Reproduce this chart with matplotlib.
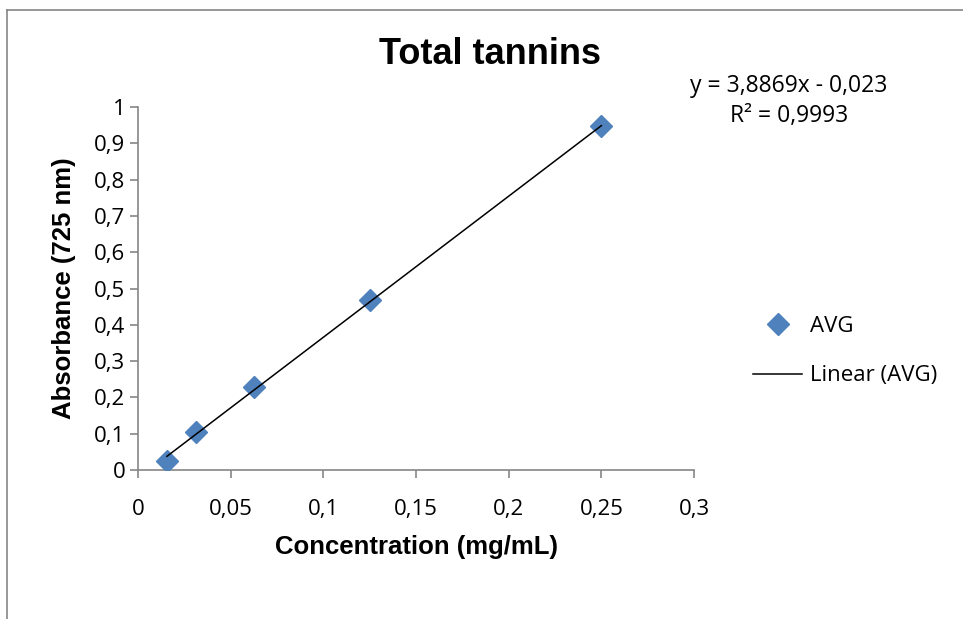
import matplotlib
matplotlib.use("Agg")
import matplotlib.pyplot as plt
import numpy as np
from matplotlib.lines import Line2D
from matplotlib.ticker import FuncFormatter

# ── Data ─────────────────────────────────────────────────────────
conc = [0.015625, 0.03125, 0.0625, 0.125, 0.25]
absorb = [0.025, 0.106, 0.228, 0.469, 0.947]
slope, intercept = 3.8869, -0.023
x_ticks = [0, 0.05, 0.1, 0.15, 0.2, 0.25, 0.3]
y_ticks = [0, 0.1, 0.2, 0.3, 0.4, 0.5, 0.6, 0.7, 0.8, 0.9, 1.0]

BLUE = "#4F81BD"
GREY = "#868686"
TICK_FONT = "Open Sans"
BOLD_FONT = "Liberation Sans"

fig = plt.figure(figsize=(9.63, 6.19), dpi=100)
ax = fig.add_axes([0.1433, 0.2407, 0.5774, 0.5864])

# outer chart frame (top + left only visible in the crop)
fig.add_artist(Line2D([7 / 963, 7 / 963], [0, 1 - 10 / 619], transform=fig.transFigure,
                      color=GREY, lw=1.2))
fig.add_artist(Line2D([7 / 963, 1], [1 - 10 / 619, 1 - 10 / 619], transform=fig.transFigure,
                      color=GREY, lw=1.2))

ax.plot(conc, absorb, linestyle="none", marker="D", markersize=11,
        color=BLUE, zorder=3, label="AVG")
fit_x = np.array([conc[0], conc[-1]])
ax.plot(fit_x, slope * fit_x + intercept, color="black", lw=1.1, zorder=4,
        label="Linear (AVG)")

ax.set_xlim(0, 0.3)
ax.set_ylim(0, 1)
ax.set_xticks(x_ticks)
ax.set_yticks(y_ticks)
comma = FuncFormatter(lambda v, p: f"{v:g}".replace(".", ","))
ax.xaxis.set_major_formatter(comma)
ax.yaxis.set_major_formatter(comma)

for s in ["top", "right"]:
    ax.spines[s].set_visible(False)
for s in ["left", "bottom"]:
    ax.spines[s].set_color(GREY)
    ax.spines[s].set_linewidth(1.2)
ax.tick_params(direction="out", length=6, width=1.2, color=GREY,
               labelsize=16, pad=3)
ax.tick_params(axis="x", pad=15)
for lbl in ax.get_xticklabels() + ax.get_yticklabels():
    lbl.set_fontfamily(TICK_FONT)

ax.set_xlabel("Concentration (mg/mL)", fontsize=18.5, fontweight="bold",
              family=BOLD_FONT, labelpad=11)
ax.set_ylabel("Absorbance (725 nm)", fontsize=18.5, fontweight="bold",
              family=BOLD_FONT, labelpad=13)
fig.text(490 / 963, 1 - 55 / 619, "Total tannins", ha="center", va="center",
         fontsize=26, fontweight="bold", family=BOLD_FONT)

fig.text(789 / 963, 1 - 86 / 619, "y = 3,8869x - 0,023", ha="center", va="center",
         fontsize=16.5, family=TICK_FONT)
fig.text(789 / 963, 1 - 116 / 619, "R² = 0,9993", ha="center", va="center",
         fontsize=16.5, family=TICK_FONT)

leg = fig.legend(loc="center left", bbox_to_anchor=(742 / 963, 1 - 351 / 619),
                 frameon=False, handlelength=2.2, handletextpad=0.35,
                 labelspacing=1.3, borderpad=0,
                 prop={"family": TICK_FONT, "size": 16})

fig.savefig("out.png", dpi=100)
